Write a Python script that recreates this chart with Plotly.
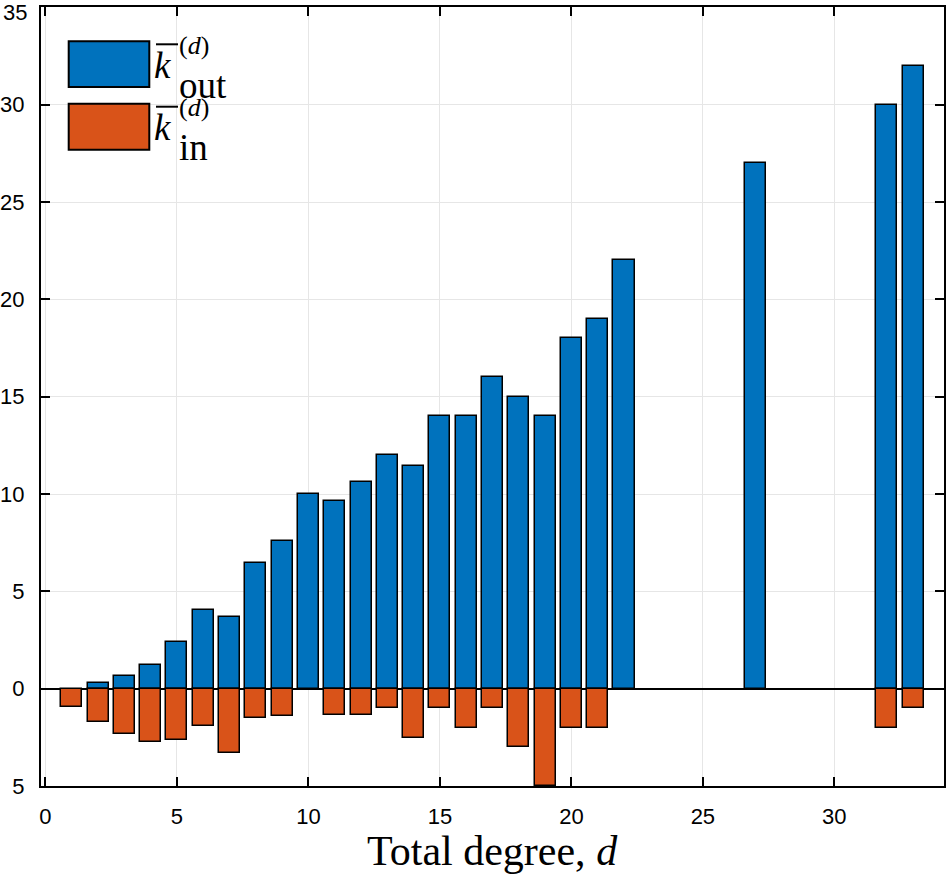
import plotly.graph_objects as go

# ---- data ----
degrees = [1, 2, 3, 4, 5, 6, 7, 8, 9, 10, 11, 12, 13, 14, 15, 16, 17, 18, 19, 20, 21, 22, 27, 32, 33]
k_out = [None, 0.31, 0.67, 1.23, 2.41, 4.06, 3.68, 6.45, 7.6, 10.0, 9.62, 10.64, 12.0, 11.46,
         14.0, 14.0, 16.0, 15.0, 14.0, 18.0, 19.0, 22.0, 27.0, 30.0, 32.0]
k_in = [0.93, 1.73, 2.35, 2.76, 2.62, 1.92, 3.3, 1.5, 1.4, None, 1.35, 1.35, 1.0, 2.52,
        1.0, 2.0, 1.0, 3.0, 5.0, 2.0, 2.0, None, None, 2.0, 1.0]
y_tickvals = [-5, 0, 5, 10, 15, 20, 25, 30, 35]
y_ticktext = ["5", "0", "5", "10", "15", "20", "25", "30", ""]
y_top_label = "35"
x_tickvals = [0, 5, 10, 15, 20, 25, 30]

BLUE = "#0072BD"
ORANGE = "#D95319"

neg_in = [None if v is None else -v for v in k_in]

fig = go.Figure()
fig.add_trace(go.Bar(x=degrees, y=k_out, width=0.8, marker=dict(color=BLUE, line=dict(color="black", width=1.5)),
                     name="k_out", showlegend=False))
fig.add_trace(go.Bar(x=degrees, y=neg_in, width=0.8, marker=dict(color=ORANGE, line=dict(color="black", width=1.5)),
                     name="k_in", showlegend=False))

W, H = 946, 874
L, R, T, B = 41, 2, 7, 88
pw, ph = W - L - R, H - T - B

def px(x):
    return (x - L) / pw

def py(y):
    return (H - B - y) / ph

tickfont = dict(family="Liberation Sans, Arial, sans-serif", size=22, color="black")
fig.update_layout(
    width=W, height=H,
    margin=dict(l=L, r=R, t=T, b=B, autoexpand=False),
    paper_bgcolor="white", plot_bgcolor="white",
    barmode="relative", bargap=0,
    xaxis=dict(range=[-0.17, 34.17], tickvals=x_tickvals, ticks="inside", ticklen=9, tickwidth=2,
               tickcolor="black", showline=True, linecolor="black", linewidth=2, mirror="allticks",
               showgrid=True, gridcolor="#e6e6e6", gridwidth=1, zeroline=False, automargin=False,
               tickfont=tickfont, ticklabelstandoff=10, ticklabeloverflow="allow"),
    yaxis=dict(range=[-5, 35.02], tickvals=y_tickvals, ticktext=y_ticktext, ticks="inside", ticklen=9, tickwidth=2,
               tickcolor="black", showline=True, linecolor="black", linewidth=2, mirror="allticks",
               showgrid=True, gridcolor="#e6e6e6", gridwidth=1, automargin=False,
               zeroline=True, zerolinecolor="black", zerolinewidth=1.5,
               tickfont=tickfont, ticklabelstandoff=10, ticklabeloverflow="allow"),
)

# top y tick label, nudged down so it stays inside the page (as in the original)
fig.add_annotation(xref="paper", yref="paper", x=px(29), y=py(12), xanchor="right", yanchor="middle",
                   text=y_top_label, showarrow=False, font=tickfont)

serif = "Liberation Serif, serif"

# x-axis title
fig.add_annotation(xref="paper", yref="paper", x=px(492), y=py(851), xanchor="center", yanchor="middle",
                   text="Total degree, <i>d</i>", showarrow=False,
                   font=dict(family=serif, size=42, color="black"))

# manual legend (large swatches like the original)
for (y0, y1, col) in [(41.3, 87, BLUE), (103.7, 149.7, ORANGE)]:
    fig.add_shape(type="rect", xref="paper", yref="paper", x0=px(68.7), x1=px(149.3), y0=py(y1), y1=py(y0),
                  fillcolor=col, line=dict(color="black", width=2))

for (dy, sub) in [(0, "out"), (62.4, "in")]:
    fig.add_shape(type="line", xref="paper", yref="paper", x0=px(156), x1=px(178),
                  y0=py(44.3 + dy), y1=py(44.3 + dy), line=dict(color="black", width=2))
    fig.add_annotation(xref="paper", yref="paper", x=px(152), y=py(65.4 + dy), xanchor="left", yanchor="middle",
                       text="<i>k</i>", showarrow=False, font=dict(family=serif, size=37, color="black"))
    fig.add_annotation(xref="paper", yref="paper", x=px(177), y=py(45 + dy), xanchor="left", yanchor="middle",
                       text="(<i>d</i>)", showarrow=False, font=dict(family=serif, size=26, color="black"))
    fig.add_annotation(xref="paper", yref="paper", x=px(177), y=py(85 + dy), xanchor="left", yanchor="middle",
                       text=sub, showarrow=False, font=dict(family=serif, size=37, color="black"))

fig.write_html("out.html", config={"displayModeBar": False},
               post_script="document.body.style.margin='0';document.body.style.overflow='hidden';")
